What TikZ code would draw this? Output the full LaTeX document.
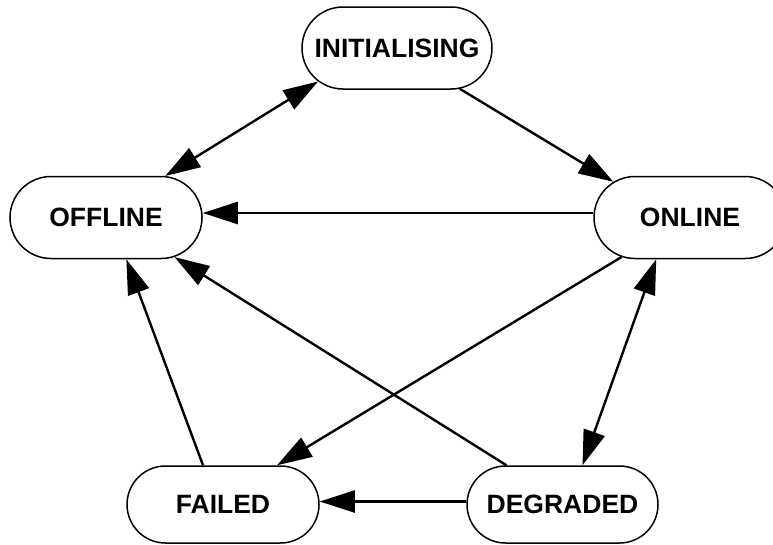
\documentclass[tikz,border=0pt]{standalone}
\usepackage{fontspec}
\setmainfont{Liberation Sans}
\usetikzlibrary{shapes.misc,arrows.meta}
\begin{document}
\begin{tikzpicture}[x=1pt,y=-1pt,
 state/.style={rounded rectangle, draw, line width=1.5pt, minimum width=192pt, minimum height=82pt, inner sep=0pt, font=\fontsize{26.5}{30}\selectfont\bfseries},
 edge/.style={line width=2.4pt, -{Triangle[length=35pt,width=22pt]}},
 biedge/.style={line width=2.4pt, {Triangle[length=35pt,width=22pt]}-{Triangle[length=35pt,width=22pt]}}]
\useasboundingbox (0,0) rectangle (773,544);
\node[state, minimum width=190pt] (init) at (397,48) {INITIALISING};
\node[state] (off) at (106,217.5) {OFFLINE};
\node[state] (on) at (690,217.5) {ONLINE};
\node[state, minimum height=77pt] (fail) at (223,504.5) {FAILED};
\node[state, minimum height=77pt, minimum width=191pt] (deg) at (562.5,504.5) {DEGRADED};
\draw[biedge] (off.35) -- (init.203);
\draw[edge] (init.327) -- (on.155);
\draw[edge] ([yshift=4.5pt]on.west) -- ([yshift=4.5pt]off.east);
\draw[edge] (on.210) -- (fail.36);
\draw[biedge] (deg.63) -- (on.231);
\draw[edge] (deg.145) -- (off.330);
\draw[edge] (fail.117) -- (off.296);
\draw[edge] ([yshift=3pt]deg.west) -- ([yshift=3pt]fail.east);
\end{tikzpicture}
\end{document}
